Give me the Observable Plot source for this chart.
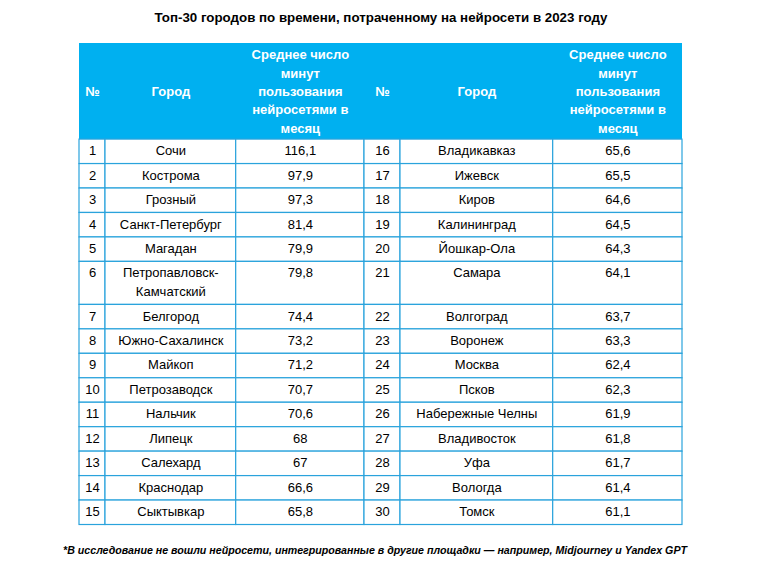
<!DOCTYPE html>
<html>
<head>
<meta charset="utf-8">
<script src="https://cdn.jsdelivr.net/npm/d3@7"></script>
<script src="https://cdn.jsdelivr.net/npm/@observablehq/plot@0.6"></script>
<style>
  html, body { margin: 0; padding: 0; background: #ffffff; }
  #chart svg { display: block; }
</style>
</head>
<body>
<div id="chart"></div>
<script>
// ---------- DATA ----------
const title = "Топ-30 городов по времени, потраченному на нейросети в 2023 году";
const footnote = "*В исследование не вошли нейросети, интегрированные в другие площадки — например, Midjourney и Yandex GPT";
const headers = ["№", "Город", "Среднее число минут пользования нейросетями в месяц"];
const ranks = [1,2,3,4,5,6,7,8,9,10,11,12,13,14,15,16,17,18,19,20,21,22,23,24,25,26,27,28,29,30];
const cities = [
  "Сочи","Кострома","Грозный","Санкт-Петербург","Магадан","Петропавловск-Камчатский",
  "Белгород","Южно-Сахалинск","Майкоп","Петрозаводск","Нальчик","Липецк","Салехард",
  "Краснодар","Сыктывкар",
  "Владикавказ","Ижевск","Киров","Калининград","Йошкар-Ола","Самара","Волгоград",
  "Воронеж","Москва","Псков","Набережные Челны","Владивосток","Уфа","Вологда","Томск"
];
const minutes = [
  116.1, 97.9, 97.3, 81.4, 79.9, 79.8, 74.4, 73.2, 71.2, 70.7, 70.6, 68, 67, 66.6, 65.8,
  65.6, 65.5, 64.6, 64.5, 64.3, 64.1, 63.7, 63.3, 62.4, 62.3, 61.9, 61.8, 61.7, 61.4, 61.1
];

// ---------- LAYOUT ----------
const FONT = "'Liberation Sans', Arial, Helvetica, sans-serif";
const colWidths = [26, 130.7, 128.3, 36, 152.7, 129.3];
const colEdges = d3.cumsum([0, ...colWidths]);
const tableW = colEdges[colEdges.length - 1];
const headerH = 3.93;        // in row units
const extraLine = 0.76;      // extra row units per additional text line
const border = "#2aa3dc";
const headerFill = "#00b0f0";

const ctx = document.createElement("canvas").getContext("2d");
function wrap(text, font, maxW) {
  ctx.font = font;
  const pieces = [];
  String(text).split(" ").forEach((w, wi) =>
    w.split(/(?<=-)/).forEach((p, pi) => pieces.push({p, space: wi > 0 && pi === 0})));
  const lines = [];
  let cur = "";
  for (const {p, space} of pieces) {
    const cand = cur ? cur + (space ? " " : "") + p : p;
    if (cur && ctx.measureText(cand).width > maxW) { lines.push(cur); cur = p; }
    else cur = cand;
  }
  lines.push(cur);
  return lines;
}
const bodyFont = `13px ${FONT}`;
const headFont = `bold 13px ${FONT}`;
const fmt = v => String(v).replace(".", ",");

// header cells
const headerCells = [0, 1, 2, 3, 4, 5].map(c => ({
  x: (colEdges[c] + colEdges[c + 1]) / 2,
  y: headerH / 2,
  text: wrap(headers[c % 3], headFont, colWidths[c] - 14).join("\n")
}));

// body rows (left: 0..14, right: 15..29)
const nRows = 15;
const rows = [];
let yCursor = headerH;
for (let i = 0; i < nRows; i++) {
  const li = i, ri = i + nRows;
  const texts = [
    String(ranks[li]), cities[li], fmt(minutes[li]),
    String(ranks[ri]), cities[ri], fmt(minutes[ri])
  ].map((t, c) => wrap(t, bodyFont, colWidths[c] - 8));
  const nLines = d3.max(texts, t => t.length);
  const h = 1 + (nLines - 1) * extraLine;
  rows.push({y0: yCursor, y1: yCursor + h, texts});
  yCursor += h;
}
const totalH = yCursor;

const cells = [];
const cellTexts = [];
rows.forEach(r => {
  r.texts.forEach((t, c) => {
    cells.push({x1: colEdges[c], x2: colEdges[c + 1], y1: r.y0, y2: r.y1});
    cellTexts.push({x: (colEdges[c] + colEdges[c + 1]) / 2, y: r.y0, text: t.join("\n")});
  });
});

const chart = Plot.plot({
  width: 762,
  height: 568,
  marginLeft: 79,
  marginRight: 80,
  marginTop: 43,
  marginBottom: 44,
  x: {type: "linear", domain: [0, tableW], axis: null},
  y: {type: "linear", domain: [0, totalH], range: [43, 524.5], axis: null},
  style: {background: "#ffffff", fontFamily: FONT},
  marks: [
    Plot.rect([{x1: 0, x2: tableW, y1: 0, y2: headerH}], {
      x1: "x1", x2: "x2", y1: "y1", y2: "y2", fill: headerFill, inset: 0
    }),
    Plot.rect(cells, {
      x1: "x1", x2: "x2", y1: "y1", y2: "y2",
      fill: "#ffffff", stroke: border, strokeWidth: 1.2, inset: 0
    }),
    Plot.text(headerCells, {
      x: "x", y: "y", text: "text", fill: "#ffffff", fontWeight: "bold",
      fontSize: 13, fontFamily: FONT, lineAnchor: "middle", lineHeight: 1.41, dy: -1.5
    }),
    Plot.text(cellTexts, {
      x: "x", y: "y", text: "text", fill: "#000000",
      fontSize: 13, fontFamily: FONT, lineAnchor: "top", lineHeight: 1.42, dy: 2.5
    }),
    Plot.text([title], {
      text: d => d, frameAnchor: "top", dy: -31, fill: "#000000",
      fontWeight: "bold", fontSize: 13.5, fontFamily: FONT, ariaDescription: "title"
    }),
    Plot.text([footnote], {
      text: d => d, frameAnchor: "bottom", dy: 29, dx: -6, fill: "#000000",
      fontWeight: "bold", fontStyle: "italic", fontSize: 11.5, fontFamily: FONT,
      ariaDescription: "footnote"
    })
  ]
});
document.getElementById("chart").appendChild(chart);

// fit title / footnote widths to the reference
const fit = (label, w) => {
  chart.querySelectorAll(`[aria-description="${label}"] text`).forEach(t => {
    t.setAttribute("textLength", w);
    t.setAttribute("lengthAdjust", "spacingAndGlyphs");
  });
};
fit("title", 453);
fit("footnote", 624);
</script>
</body>
</html>
